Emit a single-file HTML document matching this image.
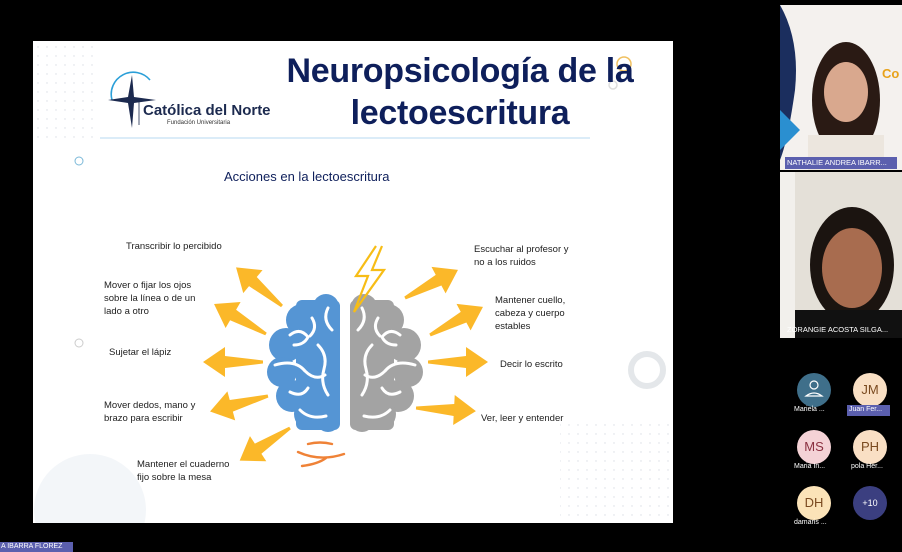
<!DOCTYPE html>
<html><head><meta charset="utf-8"><style>
html,body{margin:0;padding:0;background:#000;}
body{width:902px;height:552px;position:relative;overflow:hidden;font-family:"Liberation Sans",sans-serif;}
.t{position:absolute;font-size:9.5px;line-height:13px;color:#1d1d1d;white-space:nowrap;}
.c{position:absolute;width:34px;text-align:center;font-size:13px;}
</style></head><body>
<svg width="902" height="552" style="position:absolute;left:0;top:0">
<defs>
<pattern id="dots" width="9" height="9" patternUnits="userSpaceOnUse"><circle cx="2" cy="2" r="0.7" fill="#d8dde3"/></pattern>
<g id="ar"><polygon points="0,-1.5 38,-6 38,-15 60,0 38,15 38,6 0,1.5" fill="#fbb829"/></g>
</defs>
<rect x="33" y="41" width="640" height="482" fill="#fff"/>
<rect x="36" y="44" width="60" height="100" fill="url(#dots)"/>
<rect x="560" y="418" width="110" height="100" fill="url(#dots)"/>
<circle cx="90" cy="510" r="56" fill="#eef2f6" opacity="0.7"/>
<rect x="0" y="523" width="673" height="30" fill="#000"/>
<circle cx="79" cy="161" r="4" fill="none" stroke="#7ab8d8" stroke-width="1"/>
<circle cx="79" cy="343" r="4" fill="none" stroke="#ccc" stroke-width="1"/>
<circle cx="647" cy="370" r="16" fill="none" stroke="#e4e7ea" stroke-width="6"/>
<circle cx="624" cy="64" r="7" fill="none" stroke="#f0c060" stroke-width="1.5"/>
<circle cx="613" cy="85" r="4" fill="none" stroke="#ddd" stroke-width="1.5"/>
<path d="M112 100 A22 22 0 0 1 150 80" fill="none" stroke="#2b9fd8" stroke-width="1.6"/>
<path d="M108 100 L128 97 L132 75 L134 97 L156 100 L134 103 L132 128 L128 103 Z" fill="#1c2a4f"/>
<line x1="139" y1="100" x2="139" y2="125" stroke="#1c2a4f" stroke-width="0.8"/>
<line x1="100" y1="138" x2="590" y2="138" stroke="#cfe6f6" stroke-width="1.5"/>
<use href="#ar" transform="translate(282,306) rotate(220)"/>
<use href="#ar" transform="translate(266,334) rotate(210)"/>
<use href="#ar" transform="translate(263,362) rotate(180)"/>
<use href="#ar" transform="translate(268,396) rotate(165)"/>
<use href="#ar" transform="translate(290,428) rotate(147)"/>
<use href="#ar" transform="translate(405,298) rotate(-28)"/>
<use href="#ar" transform="translate(430,335) rotate(-28)"/>
<use href="#ar" transform="translate(428,362) rotate(0)"/>
<use href="#ar" transform="translate(416,408) rotate(3)"/>
<g fill="#5595d4">
<circle cx="326" cy="307" r="13"/><circle cx="302" cy="320" r="16"/><circle cx="286" cy="345" r="17"/><circle cx="282" cy="372" r="15"/><circle cx="292" cy="396" r="16"/><circle cx="310" cy="414" r="16"/><circle cx="328" cy="420" r="12"/>
<rect x="296" y="300" width="44" height="130" rx="6"/>
</g>
<g fill="#a3a3a3">
<circle cx="364" cy="307" r="13"/><circle cx="388" cy="320" r="16"/><circle cx="404" cy="345" r="17"/><circle cx="408" cy="372" r="15"/><circle cx="398" cy="396" r="16"/><circle cx="380" cy="414" r="16"/><circle cx="362" cy="420" r="12"/>
<rect x="350" y="300" width="44" height="130" rx="6"/>
</g>
<g fill="none" stroke="#fff" stroke-width="3" stroke-linecap="round">
<path d="M290 335 q10 -8 18 2 q-4 8 -14 8"/><path d="M312 318 q6 10 -2 18"/><path d="M275 365 q20 -6 30 6 q10 10 20 4"/><path d="M318 345 q10 10 6 24 q-4 14 4 26"/><path d="M290 392 q12 6 18 -4"/><path d="M300 410 q10 10 26 6"/><path d="M332 330 q-10 -10 -4 -22"/>
<path d="M400 335 q-10 -8 -18 2 q4 8 14 8"/><path d="M378 318 q-6 10 2 18"/><path d="M415 365 q-20 -6 -30 6 q-10 10 -20 4"/><path d="M372 345 q-10 10 -6 24 q4 14 -4 26"/><path d="M400 392 q-12 6 -18 -4"/><path d="M390 410 q-10 10 -26 6"/><path d="M358 330 q10 -10 4 -22"/>
</g>
<path d="M376 246 L356 276 L368 276 L354 312 L384 270 L372 270 L382 246" fill="none" stroke="#f7bd16" stroke-width="2.2" stroke-linejoin="miter"/>
<g fill="none" stroke="#ef8237" stroke-width="2.4" stroke-linecap="round">
<path d="M308 444 q12 -3 24 0"/><path d="M298 452 q22 10 46 2"/><path d="M302 466 q16 -2 24 -8"/>
</g>
<rect x="780" y="5" width="122" height="165" fill="#f4f1ee"/>
<path d="M780 5 Q800 40 795 90 Q788 140 780 160 Z" fill="#1b2e5e"/>
<path d="M780 110 L800 130 L780 150 Z" fill="#2a8fd0"/>
<ellipse cx="846" cy="100" rx="34" ry="58" fill="#2a1a14"/>
<ellipse cx="846" cy="92" rx="22" ry="30" fill="#d9a88e"/>
<rect x="808" y="135" width="76" height="35" fill="#ece6de"/>
<text x="882" y="78" font-size="13" font-weight="bold" fill="#e8a21a" font-family="Liberation Sans">Co</text>
<rect x="785" y="157" width="112" height="12" fill="#5b5fae"/>
<rect x="780" y="172" width="122" height="166" fill="#e4e0d8"/>
<rect x="780" y="172" width="15" height="166" fill="#f2f0ec"/>
<ellipse cx="852" cy="265" rx="42" ry="58" fill="#1b1410"/>
<ellipse cx="852" cy="268" rx="30" ry="40" fill="#a86c4f"/>
<rect x="795" y="310" width="107" height="28" fill="#111"/>
<circle cx="814" cy="390" r="17" fill="#3f6f8a"/>
<circle cx="814" cy="385" r="4" fill="none" stroke="#fff" stroke-width="1.2"/>
<path d="M806 396 q8 -6 16 0 z" fill="none" stroke="#fff" stroke-width="1.2"/>
<circle cx="870" cy="390" r="17" fill="#f9dfc4"/>
<rect x="847" y="405" width="43" height="11" fill="#5b5fae"/>
<circle cx="814" cy="447" r="17" fill="#f4d2d6"/>
<circle cx="870" cy="447" r="17" fill="#f9dfc4"/>
<circle cx="814" cy="503" r="17" fill="#fbe3b8"/>
<circle cx="870" cy="503" r="17" fill="#3b3f80"/>
<rect x="0" y="542" width="73" height="10" fill="#5b5fae"/>
</svg>
<div style="position:absolute;left:143px;top:102px;font-size:15px;color:#1c2a4f;font-weight:bold;">Católica del Norte</div>
<div style="position:absolute;left:167px;top:120px;font-size:6px;color:#333;">Fundación Universitaria</div>
<div style="position:absolute;left:270px;top:50px;width:380px;font-size:34px;font-weight:bold;color:#0e1f5b;line-height:42px;text-align:center;letter-spacing:-0.3px">Neuropsicología de la<br>lectoescritura</div>
<div style="position:absolute;left:224px;top:169px;font-size:13px;color:#0e1f5b;">Acciones en la lectoescritura</div>
<div class="t" style="left:126px;top:240px">Transcribir lo percibido</div>
<div class="t" style="left:104px;top:279px">Mover o fijar los ojos<br>sobre la línea o de un<br>lado a otro</div>
<div class="t" style="left:109px;top:346px">Sujetar el lápiz</div>
<div class="t" style="left:104px;top:399px">Mover dedos, mano y<br>brazo para escribir</div>
<div class="t" style="left:137px;top:458px">Mantener el cuaderno<br>fijo sobre la mesa</div>
<div class="t" style="left:474px;top:243px">Escuchar al profesor y<br>no a los ruidos</div>
<div class="t" style="left:495px;top:294px">Mantener cuello,<br>cabeza y cuerpo<br>estables</div>
<div class="t" style="left:500px;top:358px">Decir lo escrito</div>
<div class="t" style="left:481px;top:412px">Ver, leer y entender</div>
<div style="position:absolute;left:787px;top:158px;font-size:7.5px;color:#fff;">NATHALIE ANDREA IBARR...</div>
<div style="position:absolute;left:787px;top:325px;font-size:7.5px;color:#fff;">ZORANGIE ACOSTA SILGA...</div>
<div class="c" style="left:853px;top:382px;color:#7a4a20;">JM</div>
<div class="c" style="left:797px;top:439px;color:#8a3040;">MS</div>
<div class="c" style="left:853px;top:439px;color:#7a4a20;">PH</div>
<div class="c" style="left:797px;top:495px;color:#7a4a20;">DH</div>
<div class="c" style="left:853px;top:498px;font-size:9px;color:#fff;">+10</div>
<div style="position:absolute;left:794px;top:406px;font-size:7px;color:#fff;">Mariela ...</div>
<div style="position:absolute;left:849px;top:406px;font-size:7px;color:#fff;">Juan Fer...</div>
<div style="position:absolute;left:794px;top:463px;font-size:7px;color:#fff;">Maria In...</div>
<div style="position:absolute;left:851px;top:463px;font-size:7px;color:#fff;">pola Her...</div>
<div style="position:absolute;left:794px;top:519px;font-size:7px;color:#fff;">damaris ...</div>
<div style="position:absolute;left:1px;top:543px;font-size:7px;color:#fff;">A IBARRA FLOREZ</div>
</body></html>
